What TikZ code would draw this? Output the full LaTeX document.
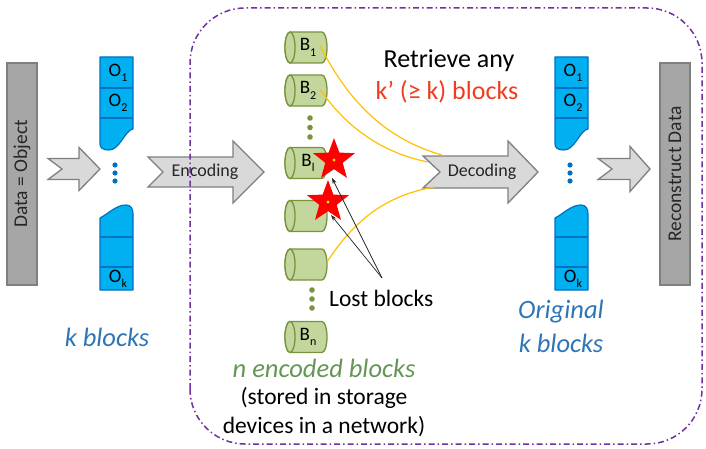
\documentclass[tikz,border=0pt]{standalone}
\usepackage{fontspec}
\setmainfont{Carlito}
\usetikzlibrary{shapes.geometric,arrows.meta}

\definecolor{boxgray}{HTML}{A6A6A6}
\definecolor{boxedge}{HTML}{7F7F7F}
\definecolor{arrowfill}{HTML}{D9D9D9}
\definecolor{blkfill}{HTML}{00B0F0}
\definecolor{blkedge}{HTML}{0070C0}
\definecolor{cylfill}{HTML}{C3D69B}
\definecolor{cyledge}{HTML}{77933C}
\definecolor{linkorange}{HTML}{FFC000}
\definecolor{framepurple}{HTML}{7030A0}
\definecolor{textblue}{HTML}{2E75B6}
\definecolor{textgreen}{RGB}{100,150,85}
\definecolor{textred}{RGB}{240,60,30}
\definecolor{darktext}{HTML}{262626}

% lowered small index in the text font
\newcommand{\lowidx}[1]{\raisebox{-0.28em}{\fontsize{12}{12}\selectfont #1}}

\tikzset{
  bigarrow/.style={fill=arrowfill, draw=boxedge, line width=1.3pt, line join=miter},
  databox/.style={rectangle, fill=boxgray, draw=boxedge, line width=1.2pt,
    minimum width=30pt, minimum height=222pt, inner sep=0pt},
  sidetext/.style={rotate=90, font=\fontsize{19.5}{21}\selectfont, text=darktext},
  blkshape/.style={fill=blkfill, draw=blkedge, line width=1.2pt, line join=round},
  blkline/.style={draw=blkedge, line width=1.2pt},
  blklabel/.style={font=\fontsize{19}{21}\selectfont, inner sep=0pt},
  cylshape/.style={fill=cylfill, draw=cyledge, line width=1.3pt},
  cyllabel/.style={font=\fontsize{19}{21}\selectfont, inner sep=0pt},
  bluedot/.style={fill=blkedge, draw=none},
  greendot/.style={fill=cyledge, draw=none},
  link/.style={draw=linkorange, line width=1.2pt},
  lostarrow/.style={draw=black!85, line width=0.7pt, -{Stealth[length=6pt,width=4pt]}},
  redstar/.style={star, star points=5, star point ratio=2.4, fill=red, draw=none,
    minimum size=44pt, inner sep=0pt},
  arrowtext/.style={font=\fontsize{18}{20}\selectfont, text=darktext},
  bigtext/.style={font=\fontsize{26}{28}\selectfont, inner sep=0pt},
  notetext/.style={font=\fontsize{23.5}{27}\selectfont, inner sep=0pt},
  bluetext/.style={font=\fontsize{26.5}{30}\selectfont\itshape, text=textblue, inner sep=0pt},
  frame/.style={draw=framepurple, line width=1.5pt, rounded corners=55pt,
    dash pattern=on 6pt off 3pt on 1.5pt off 3pt}
}

% notched block arrow: left x, tip x, centre y, head half height, body half height, head base x, notch depth
\newcommand{\notcharrow}[7]{%
  \draw[bigarrow] (#1,#3-#5) -- (#6,#3-#5) -- (#6,#3-#4) -- (#2,#3) -- (#6,#3+#4)
    -- (#6,#3+#5) -- (#1,#3+#5) -- (#1+#7,#3) -- cycle;}

% torn column of data blocks with its left edge at x = #1
\newcommand{\blockcolumn}[1]{%
  \draw[blkshape] (#1,391) -- (#1+33,391) -- (#1+33,319)
    .. controls (#1+25,318) and (#1+20,298) .. (#1+9,298)
    .. controls (#1+3,298) and (#1,300) .. (#1,304) -- cycle;
  \draw[blkline] (#1,360) -- (#1+33,360) (#1,330) -- (#1+33,330);
  \draw[blkshape] (#1,158) -- (#1,230)
    .. controls (#1+8,234) and (#1+16,243) .. (#1+26,243)
    .. controls (#1+31,243) and (#1+33,239) .. (#1+33,234) -- (#1+33,158) -- cycle;
  \draw[blkline] (#1,211) -- (#1+33,211) (#1,181) -- (#1+33,181);
  \fill[bluedot] (#1+15,283) circle (2.6) (#1+15,275) circle (2.6) (#1+15,267) circle (2.6);}

% horizontal storage cylinder centred at (#1,#2)
\newcommand{\storagecyl}[2]{%
  \draw[cylshape] (#1-16,#2+15.5) -- (#1+16,#2+15.5)
    arc[start angle=90, end angle=-90, x radius=5, y radius=15.5]
    -- (#1-16,#2-15.5)
    arc[start angle=270, end angle=90, x radius=5, y radius=15.5] -- cycle;
  \draw[cylshape] (#1-16,#2) ellipse[x radius=5, y radius=15.5];}

\begin{document}
\begin{tikzpicture}[x=1pt, y=1pt]
\useasboundingbox (0,0) rectangle (706,448);

% source and reconstructed data
\node[databox] (data) at (22,274) {};
\node[sidetext] (datatext) at (data.center) {Data = Object};
\node[databox] (recon) at (675,274) {};
\node[sidetext] (recontext) at (recon.center) {Reconstruct Data};

% block arrows
\notcharrow{48}{100}{279}{21.5}{10.5}{79}{14}
\notcharrow{148}{264}{276}{31}{15}{233}{15}
\node[arrowtext] (enc) at (205,276) {Encoding};
\notcharrow{423}{538}{276}{31}{16}{508}{17}
\node[arrowtext] (dec) at (482,276) {Decoding};
\notcharrow{598}{650}{279}{22.5}{10.5}{630}{14}

% original k blocks, before and after
\blockcolumn{100}
\node[blklabel] (o1a) at (118,375.5) {O\lowidx{1}};
\node[blklabel] (o2a) at (118,345) {O\lowidx{2}};
\node[blklabel] (oka) at (118,169.5) {O\lowidx{k}};
\blockcolumn{555}
\node[blklabel] (o1b) at (573,375.5) {O\lowidx{1}};
\node[blklabel] (o2b) at (573,345) {O\lowidx{2}};
\node[blklabel] (okb) at (573,169.5) {O\lowidx{k}};

% encoded blocks on storage devices
\storagecyl{306}{400.5}
\node[cyllabel] (b1) at (308,400.5) {B\lowidx{1}};
\storagecyl{306}{357.5}
\node[cyllabel] (b2) at (308,357.5) {B\lowidx{2}};
\fill[greendot] (310,330) circle (2.8) (310,320.5) circle (2.8) (310,311) circle (2.8);
\storagecyl{306}{285}
\node[cyllabel] (bl) at (308,285) {B\lowidx{l}};
\storagecyl{306}{232}
\coordinate (b5) at (306,232);
\storagecyl{306}{183.5}
\coordinate (b6) at (327,186);
\fill[greendot] (312,158) circle (2.8) (312,149) circle (2.8) (312,140) circle (2.8);
\storagecyl{306}{111}
\node[cyllabel] (bn) at (308,111) {B\lowidx{n}};

% retrieved blocks feeding the decoder
\coordinate (d1) at (442,293);
\coordinate (d2) at (428,286);
\coordinate (d3) at (435,261);
\draw[link] ([xshift=4pt,yshift=1pt]b1.east) .. controls (342,360) and (375,312) .. (d1);
\draw[link] ([xshift=4pt,yshift=1pt]b2.east) .. controls (338,332) and (372,297) .. (d2);
\draw[link] (b6) .. controls (348,218) and (378,252) .. (d3);

% lost blocks
\node[redstar] (star1) at (334,288) {};
\fill[yellow!80!orange] (star1.center) circle (1.7);
\node[redstar] (star2) at (328,246) {};
\fill[yellow!80!orange] (star2.center) circle (1.7);
\coordinate (lostfrom) at (382,170);
\draw[lostarrow] (lostfrom) -- (332,270);
\draw[lostarrow] (lostfrom) -- (331,233);
\node[notetext, anchor=west] (lost) at (329,150) {Lost blocks};

% captions
\node[bigtext] (retr) at (449,387) {Retrieve any};
\node[bigtext, text=textred] (kprime) at (447,356) {k’ (≥ k) blocks};
\node[bluetext] (kleft) at (107,111) {k blocks};
\node[bluetext] (orig) at (561,136) {Original};
\node[bluetext] (kright) at (561,105) {k blocks};
\node[font=\fontsize{26.5}{30}\selectfont\itshape, text=textgreen, inner sep=0pt] (nenc) at (324,80) {n encoded blocks};
\node[notetext] (stored1) at (324,50) {(stored in storage};
\node[notetext] (stored2) at (324,21) {devices in a network)};

% storage network boundary
\draw[frame] (190,4) rectangle (702,440);
\end{tikzpicture}
\end{document}
